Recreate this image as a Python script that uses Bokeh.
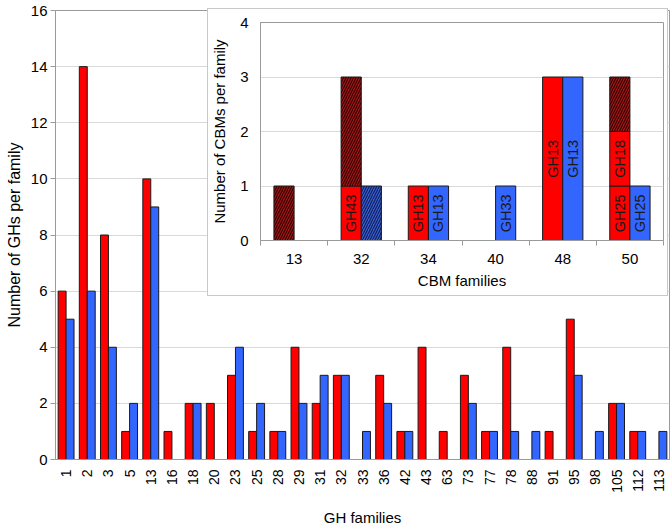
import math
from bokeh.plotting import figure
from bokeh.layouts import column
from bokeh.models import (FactorRange, Range1d, FixedTicker, GridBox, ColumnDataSource,
                          CDSView, BooleanFilter)
from bokeh.transform import dodge
from bokeh.core.properties import value
from bokeh.embed import file_html
from bokeh.resources import INLINE

# ---------------- data: main chart ----------------
gh_families = ["1", "2", "3", "5", "13", "16", "18", "20", "23", "25", "28", "29", "31",
               "32", "33", "36", "42", "43", "63", "73", "77", "78", "88", "91", "95",
               "98", "105", "112", "113"]
gh_red = [6, 14, 8, 1, 10, 1, 2, 2, 3, 1, 1, 4, 2, 3, 0, 3, 1, 4, 1, 3, 1, 4, 0, 1, 5, 0, 2, 1, 0]
gh_blue = [5, 6, 4, 2, 9, 0, 2, 0, 4, 2, 1, 2, 3, 3, 1, 2, 1, 0, 0, 2, 1, 1, 1, 0, 3, 1, 2, 1, 1]
gh_yticks = [0, 2, 4, 6, 8, 10, 12, 14, 16]

# ---------------- data: inset ----------------
cbm_families = ["13", "32", "34", "40", "48", "50"]
red_first = [0, 1, 1, 0, 3, 1]
red_first_lbl = ["", "GH43", "GH13", "", "GH13", "GH25"]
red_second = [0, 0, 0, 0, 0, 1]
red_second_lbl = ["", "", "", "", "", "GH18"]
red_hatched = [1, 2, 0, 0, 0, 1]
blue_first = [0, 0, 1, 1, 3, 1]
blue_first_lbl = ["", "", "GH13", "GH33", "GH13", "GH25"]
blue_hatched = [0, 1, 0, 0, 0, 0]
cbm_yticks = [0, 1, 2, 3, 4]

FONT = "Liberation Sans"
RED = "#ff0000"
BLUE = "#3366ff"
EDGE = "#1a1a1a"
GRID = "#d9d9d9"
AX = "#9a9a9a"

# ---------------- main figure ----------------
W, H = 671, 528
p = figure(x_range=FactorRange(factors=gh_families), y_range=Range1d(0, 16),
           width=W, height=H, output_backend="svg", toolbar_location=None,
           min_border_left=55, min_border_right=2, min_border_top=10, min_border_bottom=67)
src = ColumnDataSource(dict(f=gh_families, r=gh_red, b=gh_blue))
bw = 0.375
p.vbar(x=dodge("f", -bw / 2, range=p.x_range), top="r", width=bw, source=src,
       fill_color=RED, line_color=EDGE, line_width=1)
p.vbar(x=dodge("f", bw / 2, range=p.x_range), top="b", width=bw, source=src,
       fill_color=BLUE, line_color=EDGE, line_width=1)

p.xgrid.visible = False
p.ygrid.grid_line_color = GRID
p.yaxis.ticker = FixedTicker(ticks=gh_yticks)
p.outline_line_color = AX
for ax in (p.xaxis[0], p.yaxis[0]):
    ax.axis_line_color = AX
    ax.major_tick_line_color = AX
    ax.minor_tick_line_color = None
    ax.major_label_text_font = FONT
    ax.axis_label_text_font = FONT
    ax.axis_label_text_font_style = "normal"
    ax.major_label_text_color = "black"
    ax.axis_label_text_color = "black"
p.yaxis.major_tick_out = 5
p.yaxis.major_tick_in = 0
p.yaxis.major_label_standoff = 3
p.yaxis.major_label_text_font_size = "15px"
p.yaxis.axis_label = "Number of GHs per family"
p.yaxis.axis_label_text_font_size = "16px"
p.yaxis.axis_label_standoff = 5
p.xaxis.major_tick_line_color = None
p.xaxis.major_tick_out = 0
p.xaxis.major_label_orientation = math.pi / 2
p.xaxis.major_label_text_font_size = "14px"
p.xaxis.major_label_standoff = 10
p.xaxis.axis_label = "GH families"
p.xaxis.axis_label_text_font_size = "15px"
p.xaxis.axis_label_standoff = 13

# ---------------- inset figure ----------------
BX, BY, BW, BH = 207, 8, 461, 288   # inset box placement on the page
q = figure(x_range=Range1d(0, len(cbm_families)), y_range=Range1d(0, 4),
           width=BW - 2, height=BH - 2, output_backend="svg", toolbar_location=None,
           min_border_left=50, min_border_right=4, min_border_top=13, min_border_bottom=55)

ibw = 0.3
xc = [i + 0.5 for i in range(len(cbm_families))]
xr = [x - ibw / 2 for x in xc]
xb = [x + ibw / 2 for x in xc]
r1_top = red_first
r2_top = [a + b for a, b in zip(r1_top, red_second)]
r3_top = [a + b for a, b in zip(r2_top, red_hatched)]
b1_top = blue_first
b2_top = [a + b for a, b in zip(b1_top, blue_hatched)]


def seg(x, bottom, top, labels):
    return ColumnDataSource(dict(x=x, bottom=bottom, top=top, lbl=labels,
                                 mid=[(a + b) / 2 for a, b in zip(bottom, top)],
                                 h=[b - a for a, b in zip(bottom, top)]))


def nonzero(s):
    return CDSView(filter=BooleanFilter([h > 0 for h in s.data["h"]]))


zeros = [0] * len(cbm_families)
s_r1 = seg(xr, zeros, r1_top, red_first_lbl)
s_r2 = seg(xr, r1_top, r2_top, red_second_lbl)
s_r3 = seg(xr, r2_top, r3_top, [""] * len(cbm_families))
s_b1 = seg(xb, zeros, b1_top, blue_first_lbl)
s_b2 = seg(xb, b1_top, b2_top, [""] * len(cbm_families))

for s, col in ((s_r1, RED), (s_r2, RED), (s_b1, BLUE)):
    q.vbar(x="x", bottom="bottom", top="top", width=ibw, source=s, view=nonzero(s),
           fill_color=col, line_color=EDGE, line_width=1)
q.vbar(x="x", bottom="bottom", top="top", width=ibw, source=s_r3, view=nonzero(s_r3),
       fill_color="#a01818", line_color=EDGE, line_width=1,
       hatch_pattern="/", hatch_color="#3a0000", hatch_scale=5, hatch_weight=1.2)
q.vbar(x="x", bottom="bottom", top="top", width=ibw, source=s_b2, view=nonzero(s_b2),
       fill_color="#3a5fd0", line_color=EDGE, line_width=1,
       hatch_pattern="/", hatch_color="#102060", hatch_scale=5, hatch_weight=1.2)
for s in (s_r1, s_r2, s_b1):
    q.text(x="x", y="mid", text="lbl", source=s, angle=math.pi / 2,
           text_align="center", text_baseline="middle", text_font=value(FONT),
           text_font_size="14.5px", text_color="#1a1a1a")

q.xgrid.visible = False
q.ygrid.grid_line_color = GRID
q.outline_line_color = AX
q.yaxis.ticker = FixedTicker(ticks=cbm_yticks)
q.xaxis.ticker = FixedTicker(ticks=xc, minor_ticks=list(range(len(cbm_families) + 1)))
q.xaxis.major_label_overrides = {x: f for x, f in zip(xc, cbm_families)}
for ax in (q.xaxis[0], q.yaxis[0]):
    ax.axis_line_color = AX
    ax.major_label_text_font = FONT
    ax.axis_label_text_font = FONT
    ax.axis_label_text_font_style = "normal"
    ax.major_label_text_font_size = "15px"
    ax.axis_label_text_font_size = "15px"
    ax.major_label_text_color = "black"
    ax.axis_label_text_color = "black"
q.yaxis.major_tick_line_color = None
q.yaxis.minor_tick_line_color = None
q.yaxis.major_tick_out = 0
q.yaxis.major_label_standoff = 12
q.yaxis.axis_label = "Number of CBMs per family"
q.yaxis.axis_label_standoff = 9
q.xaxis.major_tick_line_color = None
q.xaxis.major_tick_out = 0
q.xaxis.minor_tick_line_color = AX
q.xaxis.minor_tick_out = 5
q.xaxis.minor_tick_in = 0
q.xaxis.major_label_standoff = 8
q.xaxis.axis_label = "CBM families"
q.xaxis.axis_label_standoff = 5

inset_box = column(q, styles={"border": "1px solid #c8c8c8", "background-color": "white"})

grid = GridBox(children=[(p, 0, 0, 3, 3), (inset_box, 1, 1, 1, 1)],
               rows=[f"{BY}px", f"{BH}px", f"{H - BY - BH}px"],
               cols=[f"{BX}px", f"{BW}px", f"{W - BX - BW}px"], spacing=0)

open("out.html", "w").write(file_html(grid, INLINE))
